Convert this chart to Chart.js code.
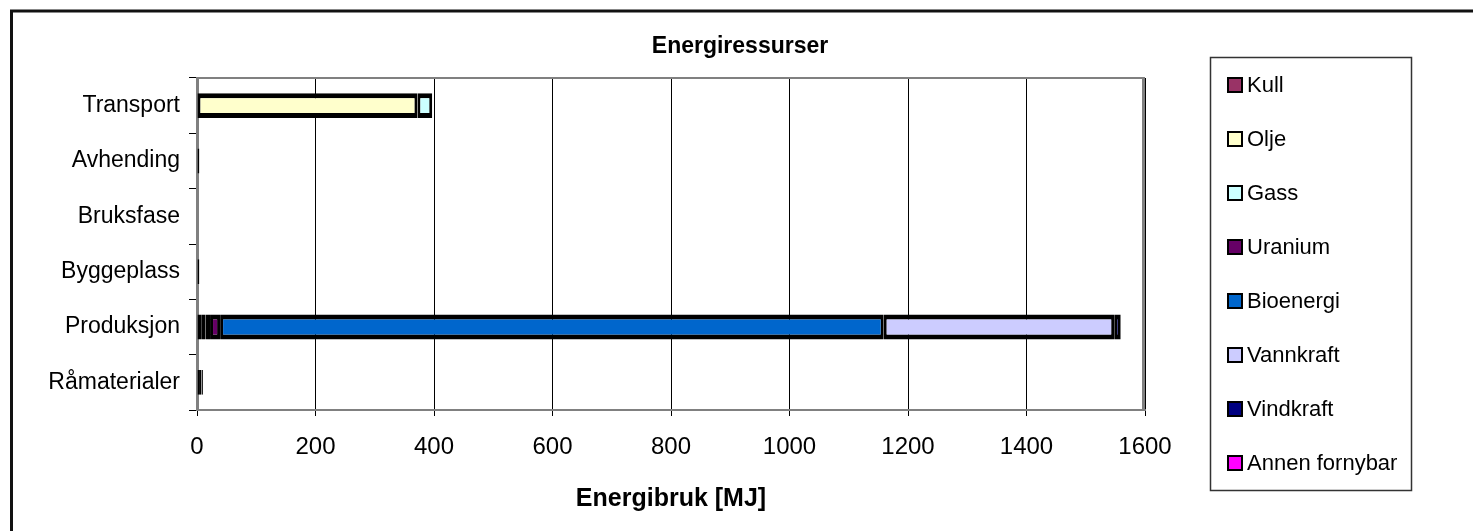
<!DOCTYPE html>
<html><head><meta charset="utf-8">
<script src="https://cdn.jsdelivr.net/npm/chart.js@4/dist/chart.umd.min.js"></script>
<style>html,body{margin:0;padding:0;background:#fff;}#wrap{width:1473px;height:531px;}</style>
</head><body><div id="wrap"><canvas id="c" width="1473" height="531"></canvas></div>
<script>
const chartTitle = 'Energiressurser';
const xTitle = 'Energibruk [MJ]';
const categories = ['Transport', 'Avhending', 'Bruksfase', 'Byggeplass', 'Produksjon', 'Råmaterialer'];
const seriesNames = ['Kull', 'Olje', 'Gass', 'Uranium', 'Bioenergi', 'Vannkraft', 'Vindkraft', 'Annen fornybar'];
const seriesColors = ['#993366', '#FFFFCC', '#CCFFFF', '#660066', '#0066CC', '#CCCCFF', '#000080', '#FF00FF'];
const kull      = [null, null, null, null, 7, 5];
const olje      = [372, 4, null, 4, 7, 2];
const gass      = [25, null, null, null, 8, 1];
const uranium   = [null, null, null, null, 17, 2];
const bioenergi = [null, null, null, null, 1120, null];
const vannkraft = [null, null, null, null, 389, null];
const vindkraft = [null, null, null, null, 11, null];
const annen     = [null, null, null, null, null, null];
const xTickValues = [0, 200, 400, 600, 800, 1000, 1200, 1400, 1600];

const seriesValues = [kull, olje, gass, uranium, bioenergi, vannkraft, vindkraft, annen];
const FONT = 'Liberation Sans, Arial, sans-serif';
Chart.defaults.font.family = FONT;
Chart.defaults.color = '#000';

const datasets = seriesNames.map((name, i) => ({
  label: name,
  data: seriesValues[i],
  backgroundColor: seriesColors[i],
  borderColor: '#000',
  borderWidth: {top: 5, bottom: 5, left: 3, right: 3},
  borderSkipped: false,
  barPercentage: 0.45,
  categoryPercentage: 1.0
}));

const decor = {
  id: 'decor',
  afterDraw(chart) {
    const ctx = chart.ctx;
    const a = chart.chartArea;
    ctx.save();
    // outer frame (top and left visible)
    ctx.strokeStyle = '#111';
    ctx.lineWidth = 3;
    ctx.beginPath();
    ctx.moveTo(11.5, 540); ctx.lineTo(11.5, 11); ctx.lineTo(1480, 11);
    ctx.stroke();
    // plot area border top/right
    ctx.strokeStyle = '#808080';
    ctx.lineWidth = 2;
    ctx.beginPath();
    ctx.moveTo(a.left, a.top); ctx.lineTo(a.right - 1, a.top);
    ctx.stroke();
    ctx.lineWidth = 3;
    ctx.beginPath();
    ctx.moveTo(a.right - 1.5, a.top - 1); ctx.lineTo(a.right - 1.5, a.bottom);
    ctx.stroke();
    // title
    ctx.fillStyle = '#000';
    ctx.font = 'bold 23px ' + FONT;
    ctx.textAlign = 'center';
    ctx.textBaseline = 'middle';
    ctx.fillText(chartTitle, 740, 47);
    // legend
    const lx = 1210, ly = 57, lw = 201, lh = 433;
    ctx.strokeStyle = '#333';
    ctx.lineWidth = 1.5;
    ctx.strokeRect(lx + 0.5, ly + 0.5, lw, lh);
    ctx.font = '22px ' + FONT;
    ctx.textAlign = 'left';
    chart.data.datasets.forEach((ds, i) => {
      const cy = 85 + i * 54;
      ctx.fillStyle = '#000';
      ctx.fillRect(1227, cy - 8, 16, 16);
      ctx.fillStyle = ds.backgroundColor;
      ctx.fillRect(1229, cy - 6, 12, 12);
      ctx.fillStyle = '#000';
      ctx.fillText(ds.label, 1247, cy + 1);
    });
    ctx.restore();
  }
};

new Chart(document.getElementById('c'), {
  type: 'bar',
  data: { labels: categories, datasets },
  options: {
    indexAxis: 'y',
    responsive: false,
    animation: false,
    devicePixelRatio: 1,
    layout: { padding: { top: 78, right: 328, left: 0, bottom: 0 } },
    plugins: { legend: { display: false }, title: { display: false }, tooltip: { enabled: false } },
    scales: {
      x: {
        type: 'linear', stacked: true, min: 0, max: 1600,
        afterBuildTicks(s) { s.ticks = xTickValues.map(v => ({ value: v })); },
        afterFit(s) { s.height = 121; },
        ticks: { font: { size: 24 }, color: '#000', padding: 17, callback: v => String(v) },
        grid: { color: '#000', lineWidth: 1, tickLength: 6, tickColor: '#000' },
        border: { display: true, color: '#808080', width: 2 },
        title: { display: true, text: xTitle, color: '#000', font: { size: 25, weight: 'bold' }, padding: { top: 0, bottom: 17 } }
      },
      y: {
        stacked: true,
        afterFit(s) { s.width = 197; },
        ticks: { font: { size: 23 }, color: '#000', padding: 9 },
        grid: { drawOnChartArea: false, tickLength: 8, color: '#000', offset: true },
        border: { display: true, color: '#808080', width: 3 }
      }
    }
  },
  plugins: [decor]
});
</script></body></html>
